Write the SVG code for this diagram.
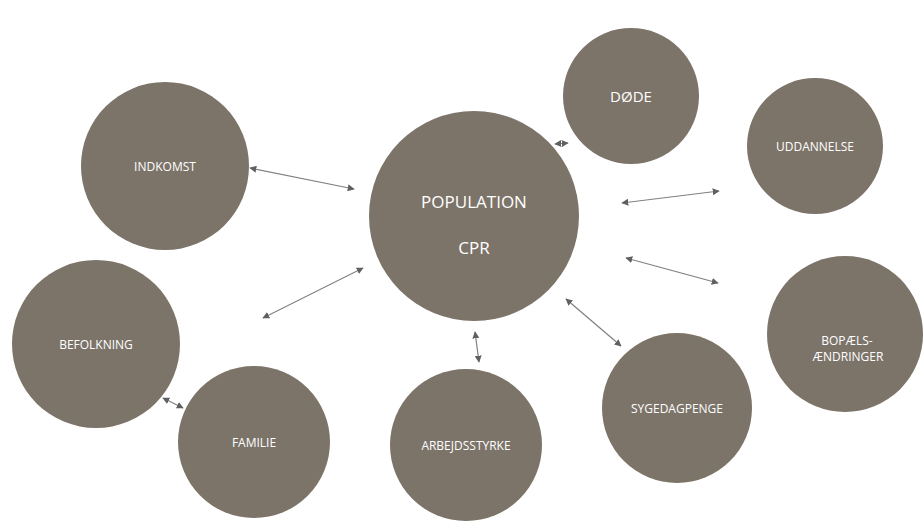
<svg xmlns="http://www.w3.org/2000/svg" width="923" height="527" viewBox="0 0 923 527">
<style>
.n{fill:#7c7369}
.t{fill:#ffffff;font-family:"Open Sans","Liberation Sans",sans-serif;font-size:12px;text-anchor:middle;dominant-baseline:central}
.big{font-size:17px}
.med{font-size:15px}
.c{stroke:#808080;stroke-width:1.2;fill:none;marker-start:url(#a);marker-end:url(#a)}
</style>
<defs>
<marker id="a" viewBox="0 0 10 10" refX="9" refY="5" markerWidth="7" markerHeight="7" orient="auto-start-reverse" markerUnits="userSpaceOnUse">
<path d="M0,0L10,5L0,10z" fill="#606060"/>
</marker>
</defs>
<rect width="923" height="527" fill="#ffffff"/>
<g id="connectors">
<line class="c" x1="250" y1="168" x2="354" y2="189"/>
<line class="c" x1="555" y1="144" x2="568" y2="143"/>
<line class="c" x1="622" y1="203" x2="719" y2="191"/>
<line class="c" x1="626" y1="258" x2="718" y2="283"/>
<line class="c" x1="263" y1="318" x2="363" y2="268"/>
<line class="c" x1="475" y1="332" x2="479" y2="362"/>
<line class="c" x1="566" y1="299" x2="621" y2="346"/>
<line class="c" x1="163" y1="398" x2="183" y2="408"/>
</g>
<g id="population"><circle class="n" cx="474" cy="216" r="105"/><text class="t big" x="474" y="201">POPULATION</text><text class="t big" x="474" y="247">CPR</text></g>
<g id="dode"><circle class="n" cx="631" cy="96" r="68"/><text class="t med" x="631" y="96">DØDE</text></g>
<g id="uddannelse"><circle class="n" cx="815" cy="146" r="68"/><text class="t" x="815" y="146">UDDANNELSE</text></g>
<g id="indkomst"><circle class="n" cx="165" cy="166" r="84"/><text class="t" x="165" y="166">INDKOMST</text></g>
<g id="befolkning"><circle class="n" cx="96" cy="344" r="84"/><text class="t" x="96" y="344">BEFOLKNING</text></g>
<g id="familie"><circle class="n" cx="254" cy="442" r="76"/><text class="t" x="254" y="442">FAMILIE</text></g>
<g id="arbejdsstyrke"><circle class="n" cx="466" cy="445" r="76"/><text class="t" x="466" y="445">ARBEJDSSTYRKE</text></g>
<g id="sygedagpenge"><circle class="n" cx="677" cy="408" r="75"/><text class="t" x="677" y="408">SYGEDAGPENGE</text></g>
<g id="bopael"><circle class="n" cx="845" cy="334" r="78"/><text class="t" x="847" y="340">BOPÆLS-</text><text class="t" x="848" y="356">ÆNDRINGER</text></g>
</svg>
